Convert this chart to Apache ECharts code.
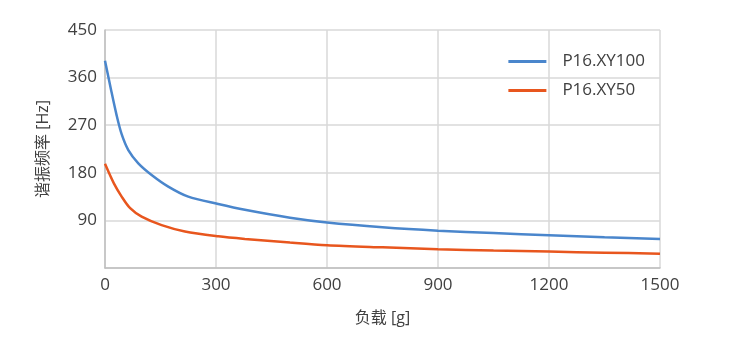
<!DOCTYPE html>
<html>
<head>
<meta charset="utf-8">
<script src="https://cdn.jsdelivr.net/npm/echarts@6/dist/echarts.min.js"></script>
<style>html,body{margin:0;padding:0;background:#fff}#c{width:750px;height:362px}</style>
</head>
<body>
<div id="c"></div>
<script>
const xTicks = [0, 300, 600, 900, 1200, 1500];
const yTicks = [0, 90, 180, 270, 360, 450];
const seriesNames = ['P16.XY100', 'P16.XY50'];
const loadXY100 = [0, 16, 31, 45, 63, 90, 126, 171, 225, 306, 378, 500, 600, 750, 900, 1050, 1200, 1350, 1500];
const freqXY100 = [392, 338, 290, 253, 223, 198, 176, 154, 135, 121, 110, 95, 86, 77, 70.5, 66, 62, 58, 55];
const loadXY50 = [0, 24, 45, 68, 99, 153, 216, 306, 378, 500, 600, 750, 900, 1050, 1200, 1350, 1500];
const freqXY50 = [197, 160, 135, 113, 97, 81, 69, 60, 55, 48, 43, 39, 35.5, 33, 31, 29, 27];

const font = '"Open Sans", "Noto Sans CJK SC", sans-serif';
const chart = echarts.init(document.getElementById('c'));
chart.setOption({
  animation: false,
  backgroundColor: '#fff',
  textStyle: { fontFamily: font },
  grid: { left: 105, right: 90, top: 30, bottom: 94, containLabel: false },
  legend: {
    orient: 'vertical',
    right: 100, top: 48,
    itemWidth: 38, itemHeight: 3, itemGap: 12,
    icon: 'rect',
    textStyle: { fontSize: 17, color: '#404040', fontFamily: font, padding: [0, 0, 0, 11] },
    data: seriesNames
  },
  xAxis: {
    type: 'value', min: xTicks[0], max: xTicks[xTicks.length - 1], interval: 300,
    name: '负载 [g]', nameLocation: 'middle', nameGap: 42,
    nameTextStyle: { fontSize: 16, color: '#404040', fontFamily: font },
    axisLine: { show: true, lineStyle: { color: '#bfbfbf', width: 1.5 } },
    axisTick: { show: false },
    axisLabel: { fontSize: 17, color: '#404040', margin: 9, formatter: v => String(v) },
    splitLine: { show: true, lineStyle: { color: '#d9d9d9', width: 1.5 } }
  },
  yAxis: {
    type: 'value', min: yTicks[0], max: yTicks[yTicks.length - 1], interval: 90,
    name: '谐振频率 [Hz]', nameLocation: 'middle', nameGap: 54, nameRotate: 90,
    nameTextStyle: { fontSize: 16, color: '#404040', fontFamily: font },
    axisLine: { show: true, lineStyle: { color: '#bfbfbf', width: 1.5 } },
    axisTick: { show: false },
    axisLabel: { fontSize: 17, color: '#404040', margin: 8, formatter: v => v === 0 ? '' : String(v) },
    splitLine: { show: true, lineStyle: { color: '#d9d9d9', width: 1.5 } }
  },
  series: [
    {
      name: seriesNames[0], type: 'line', smooth: 0.3, showSymbol: false,
      itemStyle: { color: '#4a86cc' }, lineStyle: { width: 2.5, color: '#4a86cc' },
      data: loadXY100.map((x, i) => [x, freqXY100[i]])
    },
    {
      name: seriesNames[1], type: 'line', smooth: 0.3, showSymbol: false,
      itemStyle: { color: '#e8561e' }, lineStyle: { width: 2.5, color: '#e8561e' },
      data: loadXY50.map((x, i) => [x, freqXY50[i]])
    }
  ]
});
</script>
</body>
</html>
